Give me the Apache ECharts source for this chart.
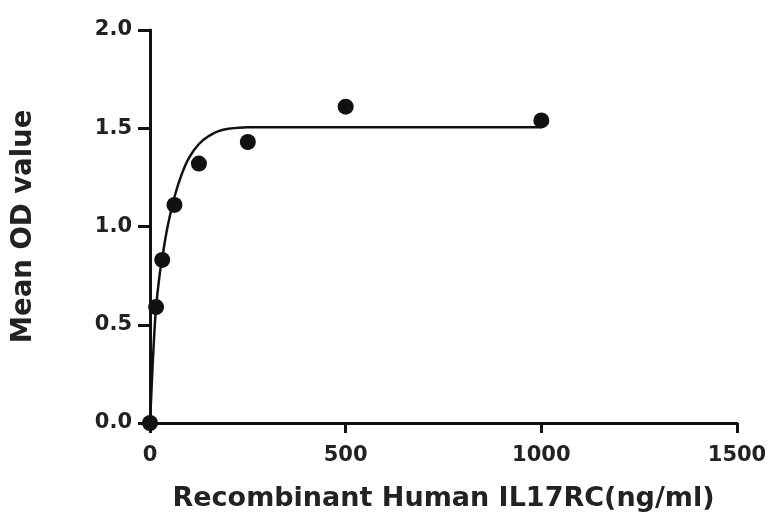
<!DOCTYPE html>
<html>
<head>
<meta charset="utf-8">
<script src="https://cdn.jsdelivr.net/npm/echarts@6/dist/echarts.min.js"></script>
<style>
html,body{margin:0;padding:0;background:#fff;}
#chart{width:771px;height:514px;}
</style>
</head>
<body>
<div id="chart"></div>
<script>
// Measured points
const concentrations = [0, 15.6, 31.25, 62.5, 125, 250, 500, 1000];
const meanOD = [0, 0.59, 0.83, 1.11, 1.32, 1.43, 1.61, 1.54];
// Fitted curve
const curveX = [0, 5, 10, 15.6, 25, 31.25, 45, 62.5, 80, 100, 125, 150, 175, 200, 250, 300, 500, 1000];
const curveY = [0, 0.22, 0.42, 0.59, 0.76, 0.84, 1.0, 1.15, 1.26, 1.35, 1.42, 1.46, 1.485, 1.497, 1.505, 1.505, 1.505, 1.505];
// Axis
const xTicks = [0, 500, 1000, 1500];
const yTicks = [0, 0.5, 1.0, 1.5, 2.0];
const xTitle = 'Recombinant Human IL17RC(ng/ml)';
const yTitle = 'Mean OD value';

const chart = echarts.init(document.getElementById('chart'));
const font = '"DejaVu Sans", sans-serif';
chart.setOption({
  animation: false,
  backgroundColor: '#fff',
  grid: {left: 150, right: 34, top: 30, bottom: 91, containLabel: false, outerBoundsMode: 'none'},
  xAxis: {
    type: 'value', min: xTicks[0], max: xTicks[xTicks.length-1], interval: 500,
    axisLine: {show: true, onZero: false, lineStyle: {color: '#111', width: 3}},
    axisTick: {show: true, length: 10, lineStyle: {color: '#111', width: 3}},
    axisLabel: {color: '#222', fontFamily: font, fontWeight: 'bold', fontSize: 21, margin: 22,
      formatter: v => String(v)},
    splitLine: {show: false},
    name: xTitle, nameLocation: 'middle', nameGap: 62,
    nameTextStyle: {color: '#222', fontFamily: font, fontWeight: 'bold', fontSize: 27}
  },
  yAxis: {
    type: 'value', min: yTicks[0], max: yTicks[yTicks.length-1], interval: 0.5,
    axisLine: {show: true, onZero: false, lineStyle: {color: '#111', width: 3}},
    axisTick: {show: true, length: 12, lineStyle: {color: '#111', width: 3}},
    axisLabel: {color: '#222', fontFamily: font, fontWeight: 'bold', fontSize: 21, margin: 18,
      formatter: v => v.toFixed(1)},
    splitLine: {show: false},
    name: yTitle, nameLocation: 'middle', nameGap: 112,
    nameTextStyle: {color: '#222', fontFamily: font, fontWeight: 'bold', fontSize: 27.5}
  },
  series: [
    {
      type: 'line', data: curveX.map((x, i) => [x, curveY[i]]),
      smooth: 0.4, showSymbol: false, symbol: 'none',
      lineStyle: {color: '#111', width: 2.5}, z: 2
    },
    {
      type: 'scatter', data: concentrations.map((x, i) => [x, meanOD[i]]),
      symbol: 'circle', symbolSize: 16, itemStyle: {color: '#111', opacity: 1}, z: 3
    }
  ]
});
</script>
</body>
</html>
